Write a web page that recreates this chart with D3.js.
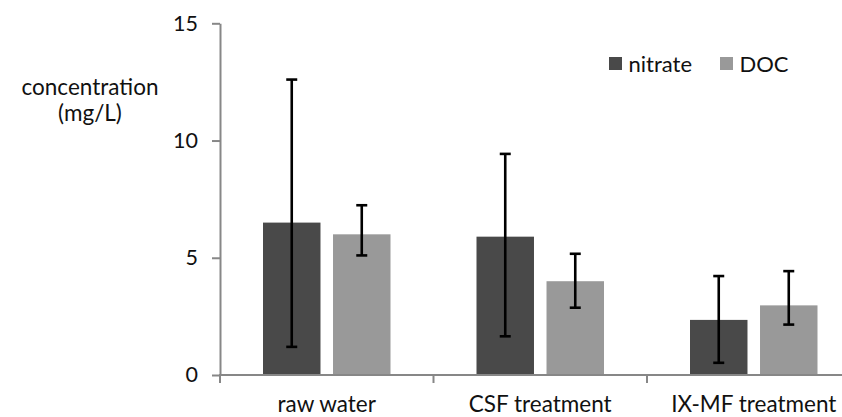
<!DOCTYPE html>
<html>
<head>
<meta charset="utf-8">
<script src="https://cdn.jsdelivr.net/npm/d3@7"></script>
<style>
  html, body { margin: 0; padding: 0; background: #fff; }
  svg text { font-family: Lato, "Open Sans", sans-serif; fill: #111; }
</style>
</head>
<body>
<svg id="chart" width="842" height="417"></svg>
<script>
// Treatment stages and measured species
const categories = ["raw water", "CSF treatment", "IX-MF treatment"];
const seriesNames = ["nitrate", "DOC"];

// Mean concentrations (mg/L)
const nitrate = [6.5, 5.9, 2.35];
const doc = [6.0, 4.0, 2.97];

// Error bar extents (mg/L): lower and upper ends
const nitrateLow = [1.2, 1.65, 0.52];
const nitrateHigh = [12.6, 9.43, 4.22];
const docLow = [5.1, 2.87, 2.15];
const docHigh = [7.24, 5.17, 4.43];

const yTicks = [0, 5, 10, 15];
const colors = ["#494949", "#999999"];

const svg = d3.select("#chart");

const x = d3.scaleBand().domain(categories).range([220, 860.5]).padding(0);
const xInner = d3.scaleBand().domain(seriesNames).range([43, 170.5]).paddingInner(0.179);
const y = d3.scaleLinear().domain([0, 15]).range([375, 23.3]);

const rows = categories.map((c, i) => ({
  cat: c,
  values: [
    { s: "nitrate", v: nitrate[i], lo: nitrateLow[i], hi: nitrateHigh[i] },
    { s: "DOC", v: doc[i], lo: docLow[i], hi: docHigh[i] }
  ]
}));

// Bars
const groups = svg.append("g").selectAll("g").data(rows).join("g")
  .attr("transform", d => `translate(${x(d.cat)},0)`);

groups.selectAll("rect").data(d => d.values).join("rect")
  .attr("x", d => xInner(d.s))
  .attr("width", xInner.bandwidth())
  .attr("y", d => y(d.v))
  .attr("height", d => y(0) - y(d.v))
  .attr("fill", (d, i) => colors[i]);

// Y axis
const yAxis = svg.append("g").attr("transform", "translate(220,0)")
  .call(d3.axisLeft(y).tickValues(yTicks).tickSize(8).tickPadding(14).tickSizeOuter(0));
yAxis.select(".domain").attr("stroke", "#878787").attr("stroke-width", 2);
yAxis.selectAll(".tick line").attr("stroke", "#878787").attr("stroke-width", 2);
yAxis.selectAll(".tick text").attr("font-size", 21.5).attr("font-family", "Lato, sans-serif").attr("fill", "#111");

// X axis line with boundary ticks between categories
svg.append("line")
  .attr("x1", 219).attr("x2", 842).attr("y1", y(0)).attr("y2", y(0))
  .attr("stroke", "#878787").attr("stroke-width", 2);
svg.append("g").selectAll("line").data(categories).join("line")
  .attr("x1", d => x(d)).attr("x2", d => x(d))
  .attr("y1", y(0)).attr("y2", y(0) + 8)
  .attr("stroke", "#878787").attr("stroke-width", 2);

const xAxis = svg.append("g").attr("transform", `translate(0,${y(0)})`)
  .call(d3.axisBottom(x).tickSize(0).tickPadding(0));
xAxis.select(".domain").remove();
xAxis.selectAll(".tick text")
  .attr("dy", null).attr("y", 37)
  .attr("font-size", 22.5).attr("font-family", "Lato, sans-serif").attr("fill", "#111");

// Error bars
const eb = groups.selectAll("g.err").data(d => d.values).join("g").attr("class", "err")
  .attr("transform", d => `translate(${xInner(d.s) + xInner.bandwidth() / 2},0)`);
eb.append("line").attr("y1", d => y(d.lo)).attr("y2", d => y(d.hi))
  .attr("stroke", "#000").attr("stroke-width", 2.6);
eb.append("line").attr("x1", -5.5).attr("x2", 5.5).attr("y1", d => y(d.hi)).attr("y2", d => y(d.hi))
  .attr("stroke", "#000").attr("stroke-width", 2.6);
eb.append("line").attr("x1", -5.5).attr("x2", 5.5).attr("y1", d => y(d.lo)).attr("y2", d => y(d.lo))
  .attr("stroke", "#000").attr("stroke-width", 2.6);

// Axis title
const title = svg.append("text").attr("text-anchor", "middle").attr("font-size", 22.5);
title.append("tspan").attr("x", 90).attr("y", 95).text("concentration");
title.append("tspan").attr("x", 90).attr("y", 121).text("(mg/L)");

// Legend
const legendX = [609, 720];
const legend = svg.append("g").selectAll("g").data(seriesNames).join("g")
  .attr("transform", (d, i) => `translate(${legendX[i]},57)`);
legend.append("rect").attr("width", 13).attr("height", 13).attr("fill", (d, i) => colors[i]);
legend.append("text").attr("x", 19.5).attr("y", 14.5).attr("font-size", 22).text(d => d);
</script>
</body>
</html>
